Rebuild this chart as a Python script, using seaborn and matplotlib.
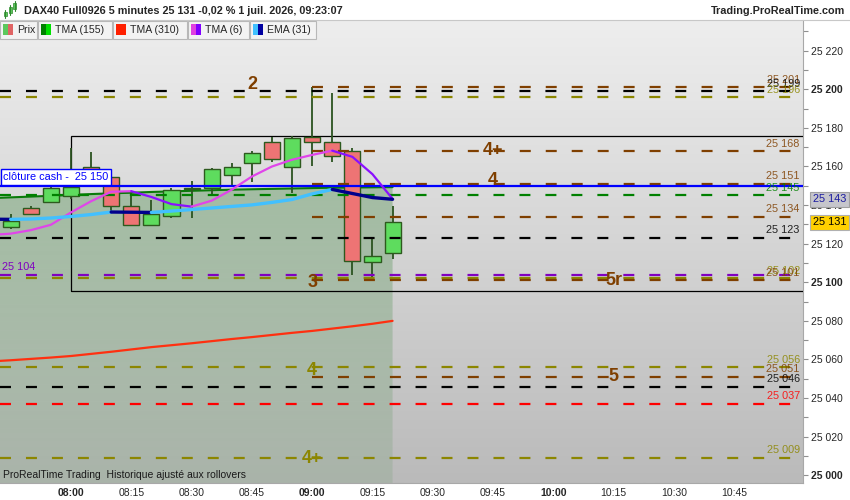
import numpy as np
import pandas as pd
import matplotlib
matplotlib.use("Agg")
import matplotlib.pyplot as plt
import matplotlib.transforms as mtransforms
from matplotlib.patches import Rectangle, Polygon
from matplotlib.colors import LinearSegmentedColormap
import seaborn as sns

sns.set_style("white")
plt.rcParams["font.family"] = ["Liberation Sans", "DejaVu Sans"]
plt.rcParams["lines.scale_dashes"] = False

# ---- data ----
candle_time = ["07:45", "07:50", "07:55", "08:00", "08:05", "08:10", "08:15", "08:20", "08:25", "08:30",
               "08:35", "08:40", "08:45", "08:50", "08:55", "09:00", "09:05", "09:10", "09:15", "09:20"]
opens = [25128.6, 25138.5, 25141.6, 25144.5, 25159.7, 25154.6, 25139.5, 25129.7, 25134.4, 25148.4,
         25148.9, 25155.6, 25161.8, 25172.7, 25159.7, 25175.3, 25172.7, 25168.0, 25110.5, 25115.2]
highs = [25135.5, 25139.5, 25149.5, 25169.4, 25167.7, 25155.6, 25146.3, 25142.6, 25148.9, 25152.5,
         25159.2, 25161.8, 25168.0, 25175.3, 25175.8, 25201.2, 25198.0, 25169.6, 25122.4, 25139.5]
lows = [25127.5, 25135.0, 25141.0, 25143.0, 25150.5, 25137.0, 25129.7, 25129.7, 25133.3, 25133.3,
        25145.0, 25150.4, 25152.0, 25162.3, 25146.3, 25160.3, 25162.3, 25103.8, 25101.2, 25112.0]
closes = [25131.8, 25135.4, 25148.9, 25149.5, 25152.0, 25139.5, 25129.7, 25135.4, 25147.8, 25149.0,
          25158.7, 25159.7, 25167.0, 25163.9, 25174.8, 25172.7, 25165.4, 25111.0, 25113.6, 25131.0]

ma_time = ["07:40"] + candle_time
tma155 = [25143.6, 25144.0, 25144.4, 25144.8, 25145.3, 25145.7, 25146.1, 25146.4, 25146.8, 25147.1, 25147.4,
          25147.7, 25148.0, 25148.2, 25148.4, 25148.6, 25148.8, 25149.0, 25149.1, 25149.2, 25149.3]
tma310 = [25059.0, 25059.6, 25060.3, 25061.0, 25061.8, 25062.9, 25064.0, 25065.2, 25066.4, 25067.4, 25068.4,
          25069.5, 25070.6, 25071.6, 25072.7, 25073.8, 25074.8, 25076.0, 25077.2, 25078.5, 25080.0]
tma6 = [25124.5, 25125.2, 25127.0, 25129.8, 25136.2, 25142.0, 25146.9, 25147.2, 25144.2, 25140.5, 25139.2,
        25142.3, 25148.0, 25154.8, 25160.0, 25163.5, 25166.0, 25168.2, 25165.0, 25156.0, 25143.2]
ema31 = [25132.7, 25132.6, 25132.8, 25133.3, 25134.1, 25135.1, 25136.4, 25136.3, 25136.2, 25136.9, 25137.7,
         25138.5, 25139.3, 25140.1, 25141.4, 25142.9, 25145.8, 25148.1, 25146.0, 25143.9, 25143.0]

level_values = [25201, 25199, 25196, 25168, 25151, 25145, 25134, 25123, 25104, 25102, 25101,
                25056, 25051, 25046, 25037, 25009]
level_kind = ["brown", "black", "olive", "brown", "brown", "green", "brown", "black", "purple", "olive", "brown",
              "olive", "brown", "black", "red", "olive"]
level_start = ["09:00", None, None, "09:00", "09:00", None, "09:00", None, None, None, "09:00",
               None, "09:00", None, None, None]

ann_text = ["2", "4+", "4", "3", "5r", "4", "5", "4+"]
ann_time = ["08:45", "09:45", "09:45", "09:00", "10:15", "09:00", "10:15", "09:00"]
ann_price = [25202.5, 25168.5, 25152.5, 25100.0, 25101.0, 25054.5, 25051.0, 25008.5]
ann_kind = ["brown", "brown", "brown", "brown", "brown", "olive", "brown", "olive"]

cash_close = 25150
box_start, box_top, box_bottom = "08:00", 25175.8, 25095.5
last_price, last_ema = 25131, 25143

x_ticks = ["07:45", "08:00", "08:15", "08:30", "08:45", "09:00", "09:15", "09:30", "09:45",
           "10:00", "10:15", "10:30", "10:45", "11:00"]
y_ticks = list(range(25000, 25221, 20))

colors = {"brown": "#7f3f00", "black": "#000000", "olive": "#8c8600", "green": "#008000",
          "purple": "#8000c0", "red": "#ff0000"}


def to_min(hhmm):
    h, m = hhmm.split(":")
    return (int(h) - 8) * 60 + int(m)


def fmt(v):
    return f"{int(v):,}".replace(",", " ")


def slope_segments(times, values, up, down, name):
    rows, pal, cur, n = [], {}, None, 0
    for i in range(len(values) - 1):
        col = up if values[i + 1] >= values[i] else down
        if col != cur:
            n += 1
            cur = col
            key = f"{name}{n}"
            pal[key] = col
            rows.append((times[i], values[i], key))
        rows.append((times[i + 1], values[i + 1], key))
    return pd.DataFrame(rows, columns=["t", "v", "seg"]), pal


ct = np.array([to_min(s) for s in candle_time])
mt = np.array([to_min(s) for s in ma_time])
o, h, l, c = map(np.array, (opens, highs, lows, closes))

XMIN, XMAX = -17.66, 182.1
YMIN, YMAX = 24996.0, 25235.9

fig = plt.figure(figsize=(8.5, 5), dpi=100)
ax = fig.add_axes([0, 17 / 500, 803 / 850, 463 / 500])
ax.set_xlim(XMIN, XMAX)
ax.set_ylim(YMIN, YMAX)

# background gradient
bg = LinearSegmentedColormap.from_list("bg", ["#eeeeee", "#bababa"])
ax.imshow(np.linspace(0, 1, 256).reshape(-1, 1), cmap=bg, extent=[XMIN, XMAX, YMIN, YMAX],
          aspect="auto", zorder=0)

# shaded area under TMA(155)
verts = list(zip(mt, tma155)) + [(mt[-1], YMIN), (mt[0], YMIN)]
poly = Polygon(verts, closed=True, facecolor="none", edgecolor="none", transform=ax.transData)
ax.add_patch(poly)
alpha = np.linspace(0.16, 0.42, 256).reshape(-1, 1)
rgba = np.zeros((256, 1, 4))
rgba[..., 0], rgba[..., 1], rgba[..., 2] = 0.34, 0.58, 0.34
rgba[..., 3] = alpha[:, :]
im = ax.imshow(rgba, extent=[mt[0], mt[-1], YMIN, max(tma155)], origin="lower", aspect="auto", zorder=1)
im.set_clip_path(poly)

# TMA lines under candles
sns.lineplot(x=mt, y=tma155, color="#0a7a0a", linewidth=1.5, ax=ax, zorder=2)
sns.lineplot(x=mt, y=tma310, color="#ff3010", linewidth=1.6, ax=ax, zorder=2)

# box
rect = Rectangle((to_min(box_start), box_bottom), 400, box_top - box_bottom, fill=False,
                 edgecolor="black", linewidth=0.9, zorder=3)
ax.add_patch(rect)

# candles
up = c >= o
ax.vlines(ct, l, h, color="#2b5320", linewidth=1.3, zorder=3)
ax.bar(ct, c - o, bottom=o, width=4.0, color=np.where(up, "#5edc5e", "#ee7474"),
       edgecolor="#2d5a1e", linewidth=1.0, zorder=3.5)

# horizontal levels
lab_tr = mtransforms.offset_copy(ax.get_yaxis_transform(), fig=fig, x=0, y=5.4, units="points")
for val, kind, start in zip(level_values, level_kind, level_start):
    x0 = XMIN if start is None else to_min(start)
    ax.plot([x0, XMAX], [val, val], color=colors[kind], linewidth=1.6,
            linestyle=(0, (7.9, 10.8)), zorder=4, dash_capstyle="butt")
    if kind == "purple":
        ax.text(0.003, val, fmt(val), transform=lab_tr, color=colors[kind], fontsize=7.8,
                ha="left", va="center", zorder=8)
    else:
        ax.text(0.996, val, fmt(val), transform=lab_tr, color=colors[kind], fontsize=7.8,
                ha="right", va="center", alpha=0.85, zorder=8)

ax.axhline(cash_close, color="#0000ff", linewidth=1.6, zorder=5)
cash_tr = mtransforms.offset_copy(ax.get_yaxis_transform(), fig=fig, x=0, y=6.3, units="points")
ax.text(0.004, cash_close, "clôture cash -  " + fmt(cash_close), transform=cash_tr, color="#0000ff",
        fontsize=7.8, ha="left", va="center", zorder=9,
        bbox=dict(boxstyle="square,pad=0.25", fc="white", ec="#0000ff", lw=1.0))

# moving averages with slope colouring
df6, pal6 = slope_segments(mt, tma6, "#e045ea", "#8a10ff", "t")
sns.lineplot(data=df6, x="t", y="v", hue="seg", palette=pal6, legend=False, estimator=None,
             sort=False, linewidth=1.6, ax=ax, zorder=6)
dfe, pale = slope_segments(mt, ema31, "#42c0ff", "#00008c", "e")
sns.lineplot(data=dfe, x="t", y="v", hue="seg", palette=pale, legend=False, estimator=None,
             sort=False, linewidth=2.4, ax=ax, zorder=6)

# annotations
for txt, t, p, kind in zip(ann_text, ann_time, ann_price, ann_kind):
    ax.text(to_min(t), p, txt, color=colors[kind], fontsize=13, fontweight="bold",
            ha="center", va="center", zorder=7)

ax.text(3 / 803, 8 / 463, "ProRealTime Trading  Historique ajusté aux rollovers", transform=ax.transAxes,
        fontsize=7.5, color="#1a1a1a", ha="left", va="center", zorder=9)

# axes
ax.yaxis.tick_right()
ax.set_yticks(y_ticks)
ax.set_yticklabels([fmt(v) for v in y_ticks])
ax.set_yticks(list(range(25000, 25231, 10)), minor=True)
for lab, v in zip(ax.get_yticklabels(), y_ticks):
    if v % 100 == 0:
        lab.set_fontweight("bold")
        lab.set_fontsize(8.5)
ax.tick_params(axis="y", which="both", length=3.5, width=0.8, color="#909090", pad=2,
               labelsize=7.5, right=True, left=False)
xt = [to_min(s) for s in x_ticks]
ax.set_xticks(xt)
ax.set_xticklabels([s if 0 <= to_min(s) <= 165 else "" for s in x_ticks])
for lab, s in zip(ax.get_xticklabels(), x_ticks):
    if s.endswith(":00"):
        lab.set_fontweight("bold")
        lab.set_fontsize(8.5)
ax.tick_params(axis="x", length=2.5, width=0.8, color="#909090", pad=0.8, labelsize=7.5)
ax.set_xlabel("")
ax.set_ylabel("")
for side in ["left", "top"]:
    ax.spines[side].set_visible(False)
for side in ["right", "bottom"]:
    ax.spines[side].set_color("#a8a8a8")
    ax.spines[side].set_linewidth(0.8)

# right side value markers
mk_tr = ax.get_yaxis_transform()
ax.text(1.012, last_ema, fmt(last_ema), transform=mk_tr, color="#1a1aa0", fontsize=7.8,
        ha="left", va="center", clip_on=False, zorder=10,
        bbox=dict(boxstyle="square,pad=0.25", fc="#c6c6cc", ec="#a0a0a0", lw=0.8))
ax.text(1.012, last_price, fmt(last_price), transform=mk_tr, color="black", fontsize=7.8,
        ha="left", va="center", clip_on=False, zorder=10,
        bbox=dict(boxstyle="square,pad=0.25", fc="#ffd000", ec="#b0b0b0", lw=0.8))

# title bar
fig.add_artist(plt.Line2D([0, 1], [480 / 500, 480 / 500], color="#c8c8c8", lw=0.8,
                          transform=fig.transFigure))
for i, (x0, y0, y1) in enumerate([(5, 12, 16), (10, 7, 13), (15, 3, 9)]):
    fig.add_artist(plt.Line2D([x0 / 850, x0 / 850], [1 - (y1 + 2) / 500, 1 - (y0 - 2) / 500],
                              color="#2f8a2f", lw=0.8, transform=fig.transFigure))
    fig.patches.append(Rectangle(((x0 - 1.5) / 850, 1 - y1 / 500), 3 / 850, (y1 - y0) / 500,
                                 transform=fig.transFigure, fc="#5ccc5c", ec="#2f8a2f", lw=0.5))
fig.text(24 / 850, 1 - 10.5 / 500, "DAX40 Full0926 5 minutes 25 131 -0,02 % 1 juil. 2026, 09:23:07",
         fontsize=7.85, fontweight="bold", ha="left", va="center")
fig.text(845 / 850, 1 - 10.5 / 500, "Trading.ProRealTime.com", fontsize=7.85, fontweight="bold",
         ha="right", va="center")

# legend bar
entries = [("Prix", ["#5cc85c", "#e06464"], 0, 37), ("TMA (155)", ["#008000", "#00e000"], 38, 112),
           ("TMA (310)", ["#ff2000"], 113, 187), ("TMA (6)", ["#e040e0", "#8000ff"], 188, 249),
           ("EMA (31)", ["#40c0ff", "#0000a0"], 250, 316)]
for name, sw, x0, x1 in entries:
    fig.patches.append(Rectangle((x0 / 850, 1 - 39 / 500), (x1 - x0) / 850, 18 / 500,
                                 transform=fig.transFigure, fc="#f3f3f3", ec="#b8b8b8", lw=0.8))
    w = 10 / len(sw)
    for k, col in enumerate(sw):
        fig.patches.append(Rectangle(((x0 + 3 + k * w) / 850, 1 - 35 / 500), w / 850, 11 / 500,
                                     transform=fig.transFigure, fc=col, ec="none"))
    fig.text((x0 + 17) / 850, 1 - 30 / 500, name, fontsize=7.6, ha="left", va="center")

fig.savefig("out.png", dpi=100, facecolor="white")
